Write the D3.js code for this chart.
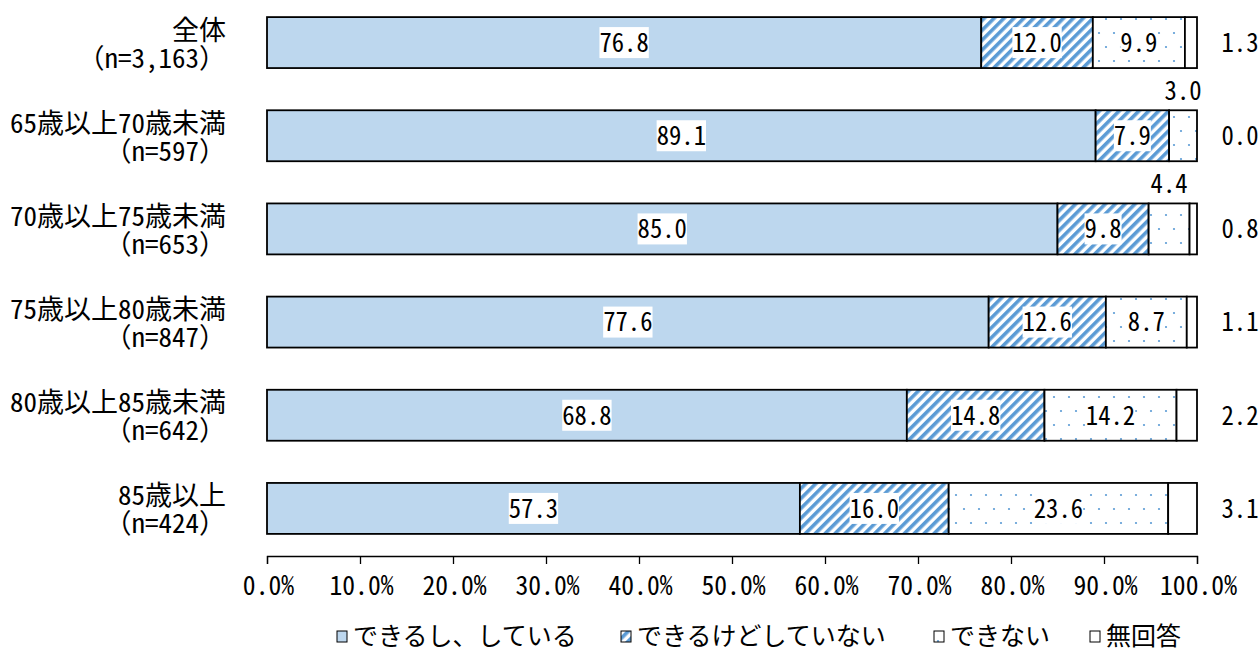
<!DOCTYPE html>
<html>
<head>
<meta charset="utf-8">
<script src="https://cdn.jsdelivr.net/npm/d3@7"></script>
<style>
  body { margin: 0; background: #fff; }
  svg { display: block; }
  text { fill: #000; font-family: "Noto Sans CJK JP", sans-serif; }
  .hw { font-feature-settings: "hwid" 1; }
</style>
</head>
<body>
<svg id="chart" width="1260" height="653"></svg>
<script>
// data
const groups = ["全体", "65歳以上70歳未満", "70歳以上75歳未満", "75歳以上80歳未満", "80歳以上85歳未満", "85歳以上"];
const counts = ["n=3,163", "n=597", "n=653", "n=847", "n=642", "n=424"];
const seriesNames = ["できるし、している", "できるけどしていない", "できない", "無回答"];
const doingIt = [76.8, 89.1, 85.0, 77.6, 68.8, 57.3];
const canButNot = [12.0, 7.9, 9.8, 12.6, 14.8, 16.0];
const cannot = [9.9, 3.0, 4.4, 8.7, 14.2, 23.6];
const noAnswer = [1.3, 0.0, 0.8, 1.1, 2.2, 3.1];
const tickValues = [0, 10, 20, 30, 40, 50, 60, 70, 80, 90, 100];

const seriesValues = [doingIt, canButNot, cannot, noAnswer];
const fills = ["#bdd7ee", "url(#hatch)", "url(#dots)", "#ffffff"];
const SQUEEZE = 0.95; // narrow number glyphs

const svg = d3.select("#chart");

// patterns
const defs = svg.append("defs");
const hatch = defs.append("pattern")
    .attr("id", "hatch")
    .attr("patternUnits", "userSpaceOnUse")
    .attr("width", 7).attr("height", 7)
    .attr("patternTransform", "rotate(45)");
hatch.append("rect").attr("width", 7).attr("height", 7).attr("fill", "#fff");
hatch.append("rect").attr("width", 3.6).attr("height", 7).attr("fill", "#5b9bd5");

const dots = defs.append("pattern")
    .attr("id", "dots")
    .attr("patternUnits", "userSpaceOnUse")
    .attr("width", 30).attr("height", 28);
dots.append("rect").attr("width", 30).attr("height", 28).attr("fill", "#fff");
[[4, 5], [19, 5], [11, 19], [26, 19]].forEach(([cx, cy]) => {
    dots.append("circle").attr("cx", cx).attr("cy", cy).attr("r", 1.1).attr("fill", "#5b9bd5");
});

// scales
const x = d3.scaleLinear().domain([0, 100]).range([267, 1197]);
const y = d3.scaleBand().domain(groups).range([-4, 555]).paddingInner(0.453).paddingOuter(0.2265);

// stack
const rows = groups.map((g, i) => {
    const r = { group: g };
    seriesNames.forEach((s, j) => { r[s] = seriesValues[j][i]; });
    return r;
});
const stacked = d3.stack().keys(seriesNames)(rows);

const layers = svg.append("g").selectAll("g")
    .data(stacked)
    .join("g")
    .attr("fill", (d, i) => fills[i]);

layers.selectAll("rect")
    .data(d => d)
    .join("rect")
    .attr("x", d => x(d[0]))
    .attr("y", d => y(d.data.group))
    .attr("width", d => x(d[1]) - x(d[0]))
    .attr("height", y.bandwidth())
    .attr("stroke", "#000")
    .attr("stroke-width", 1.8);

// value labels
const labelG = svg.append("g");
stacked.forEach((layer, i) => {
    layer.forEach(d => {
        const v = d[1] - d[0];
        const cy = y(d.data.group) + y.bandwidth() / 2;
        let tx = x((d[0] + d[1]) / 2), ty = cy, boxed = true;
        if (i === 3) {
            tx = 1240; boxed = false;
        } else if (v < 5) {
            ty = y(d.data.group) - 20; boxed = false;
        }
        const g = labelG.append("g")
            .attr("transform", `translate(${tx},${ty}) scale(${SQUEEZE},1)`);
        const t = g.append("text").attr("class", "hw")
            .attr("text-anchor", "middle")
            .attr("dy", "0.36em")
            .attr("font-size", 26)
            .text(v.toFixed(1));
        if (boxed) {
            const b = t.node().getBBox();
            g.insert("rect", "text")
                .attr("x", b.x).attr("y", -15.5)
                .attr("width", b.width).attr("height", 31)
                .attr("fill", "#fff");
        }
    });
});

// category labels
const catG = svg.append("g");
groups.forEach((g, i) => {
    const top = y(g);
    catG.append("text").attr("class", "hw")
        .attr("x", 226).attr("y", top + 13)
        .attr("text-anchor", "end").attr("dy", "0.35em")
        .attr("font-size", 27).text(g);
    const n = catG.append("text")
        .attr("x", 226).attr("y", top + 41)
        .attr("text-anchor", "end").attr("dy", "0.35em")
        .attr("font-size", 27);
    n.append("tspan").text("（");
    n.append("tspan").attr("class", "hw").text(counts[i]);
    n.append("tspan").text("）");
});

// axis
const axis = svg.append("g")
    .attr("transform", "translate(0,556)")
    .call(d3.axisBottom(x).tickValues(tickValues).tickSize(8).tickSizeOuter(8)
        .tickFormat(d => d.toFixed(1) + "%"));
axis.attr("font-family", null).attr("font-size", null);
axis.select(".domain").attr("stroke", "#000").attr("stroke-width", 1.3);
axis.selectAll(".tick line").attr("stroke", "#000").attr("stroke-width", 1.3);
axis.selectAll(".tick text")
    .attr("class", "hw")
    .attr("font-size", 27)
    .attr("fill", "#000")
    .attr("y", 0)
    .attr("dy", "0.36em")
    .attr("transform", `translate(1,29) scale(${SQUEEZE},1)`);

// legend
const legendX = [337, 621, 934, 1090];
const legend = svg.append("g").selectAll("g")
    .data(seriesNames)
    .join("g")
    .attr("transform", (d, i) => `translate(${legendX[i]},636)`);
legend.append("rect")
    .attr("x", 0).attr("y", -5).attr("width", 10).attr("height", 11)
    .attr("fill", (d, i) => fills[i])
    .attr("stroke", "#000").attr("stroke-width", 1);
legend.append("text")
    .attr("x", 16).attr("dy", "0.35em")
    .attr("font-size", 25)
    .text(d => d);
</script>
</body>
</html>
